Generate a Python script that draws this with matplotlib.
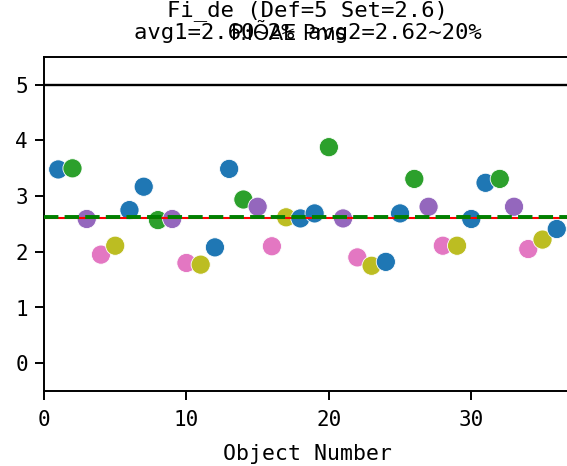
import matplotlib
matplotlib.use("Agg")
import matplotlib.pyplot as plt

# values
obj_num = list(range(1, 37))
values = [3.48, 3.50, 2.59, 1.95, 2.11, 2.75, 3.17, 2.57, 2.59, 1.80, 1.77, 2.08,
          3.49, 2.94, 2.81, 2.10, 2.62, 2.60, 2.69, 3.88, 2.60, 1.90, 1.75, 1.82,
          2.69, 3.31, 2.81, 2.11, 2.11, 2.59, 3.24, 3.31, 2.81, 2.05, 2.22, 2.41]
cycle_colors = ["#1f77b4", "#2ca02c", "#9467bd", "#e377c2", "#bcbd22", "#1f77b4"]
point_colors = [cycle_colors[i % 6] for i in range(len(values))]

limit_val = 5
avg1 = 2.60
avg2 = 2.62
title_text = "Fi_de (Def=5 Set=2.6)\navg1=2.60~2% avg2=2.62~20%"
overlay_text = "P.IÕAE Pms"

W, H = 567, 466
fig = plt.figure(figsize=(W / 100, H / 100), dpi=100)
ax = fig.add_axes([44 / W, (H - 391) / H, 527 / W, 334 / H])

mono = "DejaVu Sans Mono"

ax.scatter(obj_num, values, s=190, c=point_colors, edgecolors="white",
           linewidths=0.6, zorder=2)
ax.axhline(limit_val, color="black", lw=1.7, zorder=3)
ax.axhline(avg1, color="red", lw=1.5, zorder=3)
ax.axhline(avg2, color="green", lw=2.8, ls="--", zorder=4)

ax.set_xlim(0, 37)
ax.set_ylim(-0.5, 5.5)
ax.set_xticks([0, 10, 20, 30])
ax.set_yticks([0, 1, 2, 3, 4, 5])
ax.spines["right"].set_visible(False)
for sp in ax.spines.values():
    sp.set_linewidth(1.4)
ax.tick_params(length=6.5, width=1.4, labelsize=15, pad=5)
ax.tick_params(axis="x", pad=7)
for lab in ax.get_xticklabels() + ax.get_yticklabels():
    lab.set_family(mono)

ax.set_xlabel("Object Number", fontsize=15.5, family=mono, labelpad=10)
ax.set_title(title_text, fontsize=16, family=mono, linespacing=1.15, pad=13)
fig.text(289 / W, 1 - 40 / H, overlay_text, fontsize=15, ha="center",
         va="baseline", family="DejaVu Sans")

fig.savefig("out.png", dpi=100)
